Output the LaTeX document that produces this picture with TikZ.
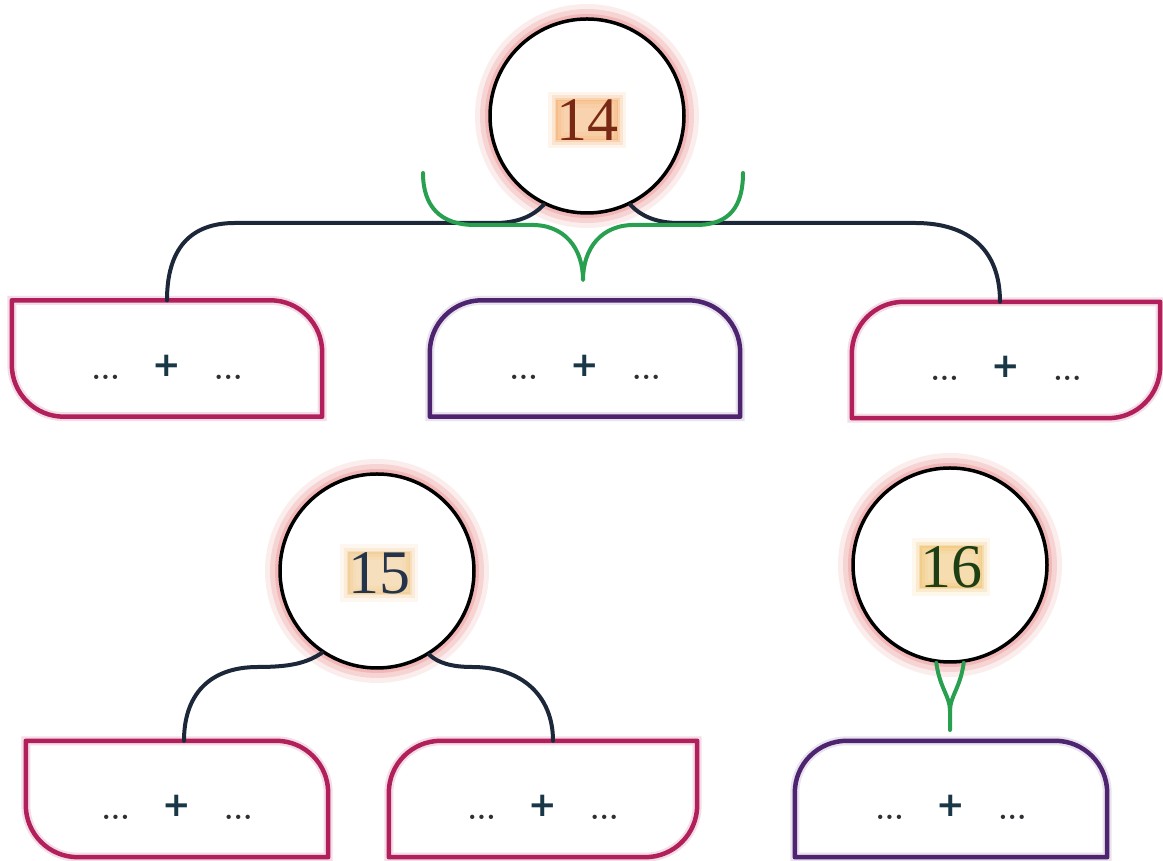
\documentclass[tikz,border=0pt]{standalone}
\usepackage{fontspec}
\newfontfamily\plusfont{DejaVu Sans}
\newfontfamily\numfont{Liberation Serif}
\usetikzlibrary{calc}
\definecolor{navyc}{RGB}{28,40,58}
\definecolor{greenc}{RGB}{40,160,80}
\definecolor{pinkc}{RGB}{178,32,92}
\definecolor{purpc}{RGB}{78,36,112}
\definecolor{haloc}{RGB}{235,140,140}
\definecolor{dotc}{RGB}{45,47,50}
\definecolor{plusc}{RGB}{25,55,70}
\definecolor{numa}{RGB}{120,40,20}
\definecolor{numb}{RGB}{35,52,75}
\definecolor{numc}{RGB}{30,62,20}
\definecolor{glowa}{RGB}{245,170,100}
\definecolor{glowb}{RGB}{240,195,125}
\definecolor{glowc}{RGB}{240,190,100}
\newcommand\boxdots{{\fontsize{30}{30}\selectfont\bfseries\color{dotc}...}}
\newcommand\boxtxt{\boxdots\hspace{33pt}{\plusfont\fontsize{34}{34}\selectfont\bfseries\color{plusc}\raisebox{3pt}{+}}\hspace{33pt}\boxdots}
\newcommand\drawpinkA[1]{\draw[pinkline] (#1.north west) -- ([xshift=-52pt]#1.north east) arc[start angle=90,end angle=0,radius=52pt] -- (#1.south east) -- ([xshift=52pt]#1.south west) arc[start angle=270,end angle=180,radius=52pt] -- cycle;}
\newcommand\drawpinkB[1]{\draw[pinkline] ([xshift=52pt]#1.north west) -- (#1.north east) -- ([yshift=52pt]#1.south east) arc[start angle=0,end angle=-90,radius=52pt] -- (#1.south west) -- ([yshift=-52pt]#1.north west) arc[start angle=180,end angle=90,radius=52pt] -- cycle;}
\newcommand\drawpurpbox[1]{\draw[purpline] ([xshift=52pt]#1.north west) -- ([xshift=-52pt]#1.north east) arc[start angle=90,end angle=0,radius=52pt] -- (#1.south east) -- (#1.south west) -- ([yshift=-52pt]#1.north west) arc[start angle=180,end angle=90,radius=52pt] -- cycle;}
\begin{document}
\begin{tikzpicture}[x=1pt,y=1pt,
  boxnode/.style={rectangle, inner sep=0pt, minimum width=#1, minimum height=116pt},
  lbl/.style={anchor=base, inner sep=0pt},
  pinkline/.style={draw=pinkc, line width=4.5pt, line join=round, preaction={draw=pinkc!30, line width=9pt, opacity=.5}},
  purpline/.style={draw=purpc, line width=4.5pt, line join=round, preaction={draw=purpc!25, line width=9pt, opacity=.5}},
  circ/.style={circle, minimum size=194pt, inner sep=0pt, draw=black, line width=3.5pt, fill=white,
    preaction={draw=haloc, line width=30pt, opacity=.15},
    preaction={draw=haloc, line width=20pt, opacity=.25},
    preaction={draw=haloc, line width=10pt, opacity=.4}},
  num/.style={inner sep=0pt, font=\numfont\fontsize{62}{62}\selectfont, text=#1},
  glow/.style={preaction={fill=#1, draw=#1, line width=16pt, opacity=.12, rounded corners=8pt},
    preaction={fill=#1, draw=#1, line width=9pt, opacity=.2, rounded corners=5pt},
    preaction={fill=#1, draw=#1, line width=3pt, opacity=.3}},
  navyline/.style={draw=navyc, line width=4pt, line cap=round},
  greenline/.style={draw=greenc, line width=4pt, line cap=round, line join=round}
]
\useasboundingbox (0,0) rectangle (1163,861);
\fill[white] (0,0) rectangle (1163,861);

% boxes
\node[boxnode=310pt] (b1) at (167,502.5) {};
\node[boxnode=310pt] (b2) at (585,502.5) {};
\node[boxnode=308pt] (b3) at (1006,501) {};
\node[boxnode=302pt] (b4) at (177,62) {};
\node[boxnode=308pt] (b5) at (543,62) {};
\node[boxnode=312pt] (b6) at (951,62) {};
\drawpinkA{b1}
\drawpurpbox{b2}
\drawpinkB{b3}
\drawpinkA{b4}
\drawpinkB{b5}
\drawpurpbox{b6}
\node[lbl] (t1) at ([yshift=-21pt]b1.center) {\boxtxt};
\node[lbl] (t2) at ([yshift=-21pt]b2.center) {\boxtxt};
\node[lbl] (t3) at ([yshift=-21pt]b3.center) {\boxtxt};
\node[lbl] (t4) at ([yshift=-21pt]b4.center) {\boxtxt};
\node[lbl] (t5) at ([yshift=-21pt]b5.center) {\boxtxt};
\node[lbl] (t6) at ([yshift=-21pt]b6.center) {\boxtxt};

% circles
\node[circ] (c14) at (587,745) {};
\node[circ] (c15) at (377,290) {};
\node[circ] (c16) at (950,296) {};
\node[num=numa, glow=glowa] (n14) at ([yshift=-4pt]c14.center) {14};
\node[num=numb, glow=glowb] (n15) at ([xshift=2pt,yshift=-2pt]c15.center) {15};
\node[num=numc, glow=glowc] (n16) at ([xshift=1pt,yshift=-2pt]c16.center) {16};

% navy connectors
\draw[navyline] (c14.244) .. controls (533,645) and (518,638) .. (495,638) -- (235,638)
  .. controls (190,638) and (167,612) .. (b1.north);
\draw[navyline] (c14.296) .. controls (641,645) and (656,638) .. (679,638) -- (915,638)
  .. controls (968,638) and (1000,612) .. ([xshift=-6pt]b3.north);
\draw[navyline] (c15.236) .. controls (307,198) and (290,194) .. (258,194)
  .. controls (208,194) and (184,165) .. ([xshift=7pt]b4.north);
\draw[navyline] (c15.302) .. controls (438,198) and (452,194) .. (472,194)
  .. controls (522,194) and (553,165) .. ([xshift=10pt]b5.north);

% green connectors
\coordinate (g1) at (583,581);
\coordinate (gl) at (423,688);
\coordinate (gr) at (743,688);
\draw[greenline] (gl) .. controls (423,655) and (440,636) .. (475,636) -- (530,636)
  .. controls (565,637) and (583,612) .. (g1)
  .. controls (583,612) and (601,637) .. (636,636) -- (696,636)
  .. controls (730,636) and (743,655) .. (gr);
\coordinate (g2) at (950,150);
\coordinate (g3) at (950,131);
\draw[greenline] (c16.262) .. controls (940,172) and (950,165) .. (g2) -- (g3);
\draw[greenline] (c16.278) .. controls (960,172) and (950,165) .. (g2);
\end{tikzpicture}
\end{document}
